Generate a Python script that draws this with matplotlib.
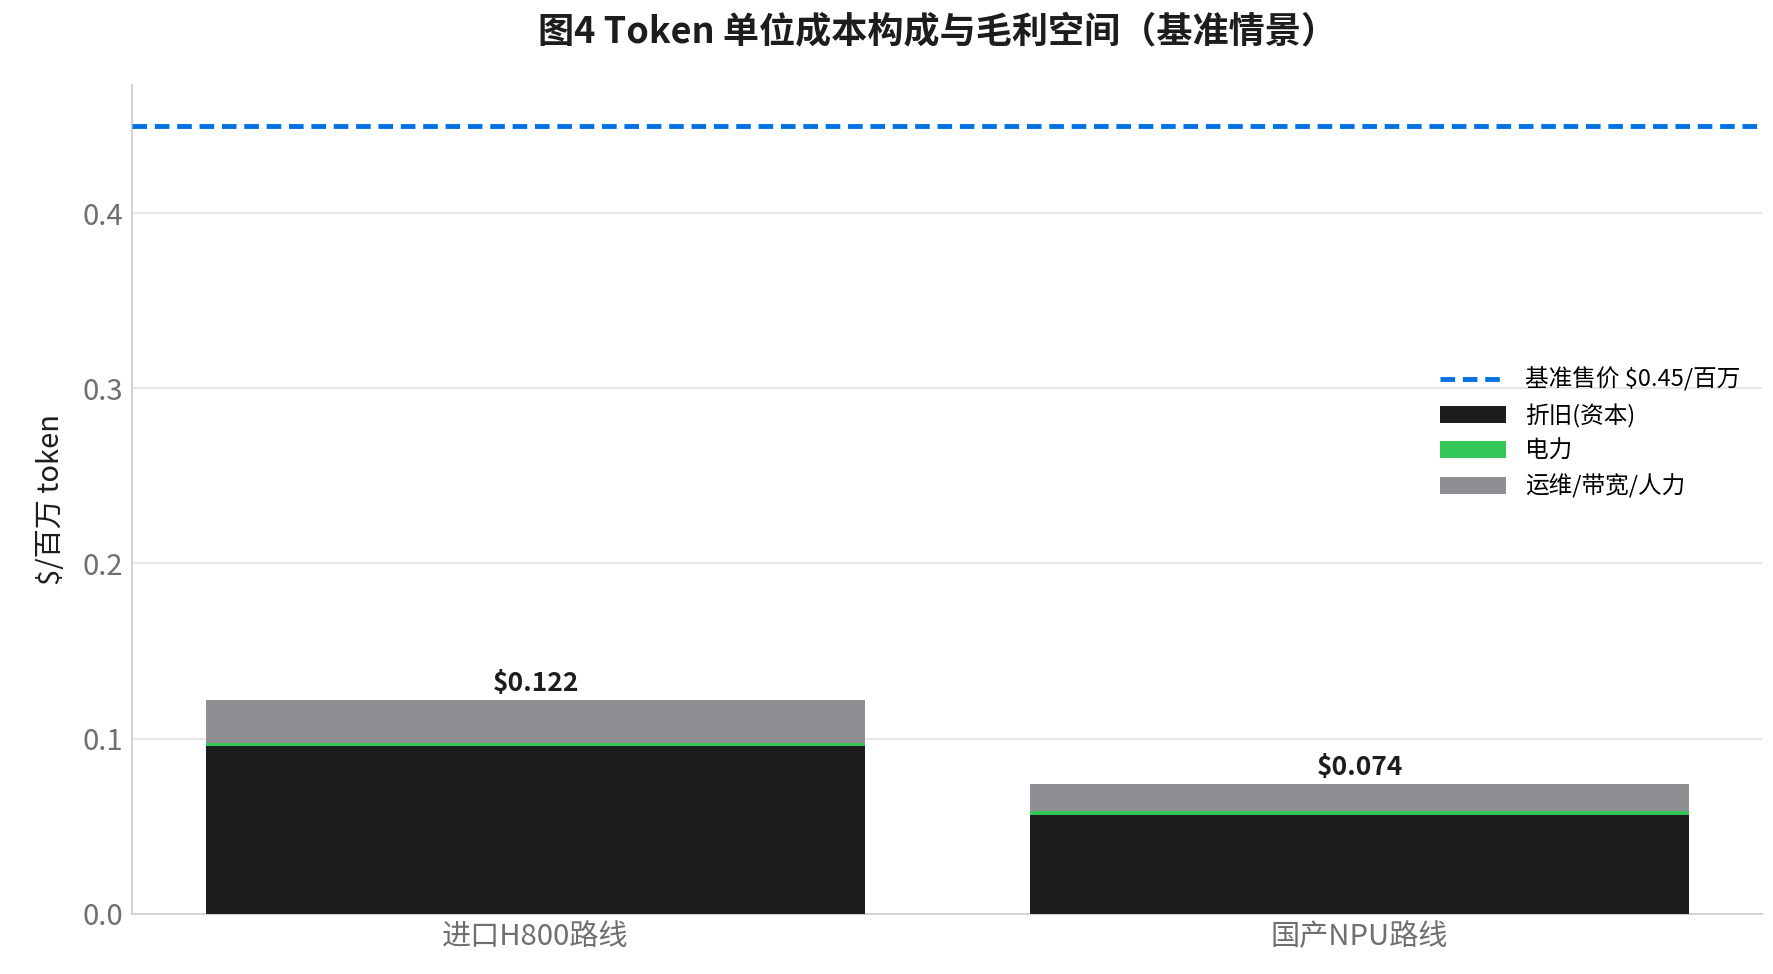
import matplotlib
matplotlib.use("Agg")
import matplotlib.pyplot as plt

plt.rcParams['font.family'] = ['Noto Sans CJK SC', 'DejaVu Sans']

categories = ['进口H800路线', '国产NPU路线']
depreciation = [0.0955, 0.0565]
power = [0.002, 0.0019]
opex = [0.0245, 0.0156]
totals = [0.122, 0.074]
price = 0.45

W, H = 1560, 857
fig = plt.figure(figsize=(17.73, 9.74), dpi=100)
ax = fig.add_axes([116/W, 1-804/H, (1550-116)/W, (804-75)/H])

x = list(range(len(categories)))
hb1 = ax.bar(x, depreciation, width=0.8, color='#1d1d1f', label='折旧(资本)', zorder=3)
hb2 = ax.bar(x, power, width=0.8, bottom=depreciation, color='#34c759', label='电力', zorder=3)
b2 = [d + p for d, p in zip(depreciation, power)]
hb3 = ax.bar(x, opex, width=0.8, bottom=b2, color='#8e8e93', label='运维/带宽/人力', zorder=3)
hl = ax.axhline(price, color='#0071e3', linestyle=(0, (3, 1.6)), linewidth=3.5,
                label='基准售价 $0.45/百万', zorder=4)
for xi, t in zip(x, totals):
    ax.text(xi, t + 0.002, f'${t:.3f}', ha='center', va='bottom', fontsize=19,
            fontweight='bold', color='#1d1d1f')

ax.set_xlim(-0.49, 1.488)
ax.set_ylim(0, 0.473)
ax.set_xticks(x)
ax.set_xticklabels(categories, fontsize=21, color='#6e6e73')
ax.set_yticks([0, 0.1, 0.2, 0.3, 0.4])
ax.set_yticklabels(['0.0', '0.1', '0.2', '0.3', '0.4'], fontsize=21, color='#6e6e73')
ax.tick_params(length=0, pad=6)
ax.set_ylabel('$/百万 token', fontsize=21, color='#1d1d1f', labelpad=12)
ax.grid(axis='y', color='#e5e5ea', linewidth=1.5, zorder=0)
for s in ['top', 'right']:
    ax.spines[s].set_visible(False)
for s in ['left', 'bottom']:
    ax.spines[s].set_color('#d2d2d7')
    ax.spines[s].set_linewidth(1.5)

ax.legend([hl, hb1, hb2, hb3], ['基准售价 $0.45/百万', '折旧(资本)', '电力', '运维/带宽/人力'],
          loc='center right', bbox_to_anchor=(1.0, 0.58), frameon=False, fontsize=17,
          handlelength=2.8)

fig.suptitle('图4 Token 单位成本构成与毛利空间（基准情景）', fontsize=26,
             fontweight='bold', color='#1d1d1f', y=0.985, x=0.529)
fig.savefig('out.png', dpi=100)
